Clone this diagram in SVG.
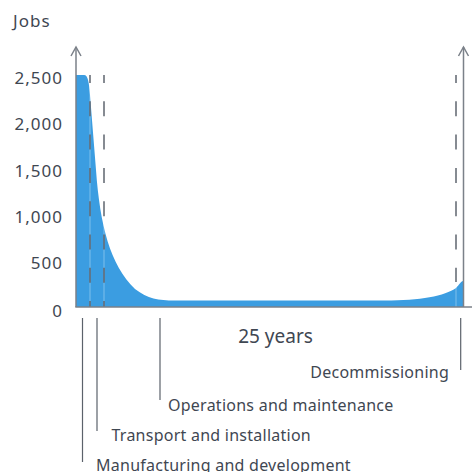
<svg xmlns="http://www.w3.org/2000/svg" width="472" height="472" viewBox="0 0 472 472">
<defs>
<style>
.t{font-family:"Noto Sans","Liberation Sans",sans-serif;fill:#3f4752}
.yl{font-size:17px;text-anchor:end;letter-spacing:1px}
.lb{font-size:16px;letter-spacing:0.25px}
.ax{stroke:#7b8189;stroke-width:1.5;fill:none}
.dash{stroke:#5f666f;stroke-width:1.5;stroke-dasharray:15 18.3;stroke-dashoffset:7;fill:none}
.lite{stroke:#ffffff;stroke-opacity:0.35;stroke-width:1;fill:none}
.lead{stroke:#5b626b;stroke-width:1.2;fill:none}
</style>
</defs>
<rect width="472" height="472" fill="#ffffff"/>
<g id="area">
<path d="M76,307 V75 H84 C88,75 89,82 90,95 L96,170 C100,225 110,265 135,289 C148,299 158,300.5 175,300.5 L385,300.5 C420,300.5 445,296 456,288 C459,285 461,281 463,281 V307 Z" fill="#3b9de1"/>
<line class="lite" x1="90" y1="75" x2="90" y2="307"/>
<line class="lite" x1="104" y1="75" x2="104" y2="307"/>
<line class="lite" x1="456" y1="75" x2="456" y2="307"/>
</g>
<g id="dashes">
<line class="dash" x1="90" y1="75" x2="90" y2="307"/>
<line class="dash" x1="104" y1="75" x2="104" y2="307"/>
<line class="dash" x1="456" y1="75" x2="456" y2="282"/>
</g>
<g id="axes">
<line class="ax" x1="76" y1="47" x2="76" y2="307"/>
<polyline class="ax" points="71,56 76,47 81,56"/>
<line class="ax" x1="463.5" y1="47" x2="463.5" y2="307"/>
<polyline class="ax" points="458.5,56 463.5,47 468.5,56"/>
<line class="ax" x1="75.3" y1="307" x2="472" y2="307"/>
</g>
<g id="ylabels">
<text class="t" x="13" y="26.7" font-size="17" letter-spacing="1">Jobs</text>
<text class="t yl" x="63" y="83.5">2,500</text>
<text class="t yl" x="63" y="129.8">2,000</text>
<text class="t yl" x="63" y="176.5">1,500</text>
<text class="t yl" x="63" y="223">1,000</text>
<text class="t yl" x="63" y="269">500</text>
<text class="t yl" x="63" y="316.5">0</text>
</g>
<g id="connectors">
<line class="lead" x1="82.5" y1="318" x2="82.5" y2="462"/>
<line class="lead" x1="97" y1="318" x2="97" y2="431"/>
<line class="lead" x1="160" y1="318" x2="160" y2="400"/>
<line class="lead" x1="460.7" y1="318" x2="460.7" y2="370"/>
</g>
<g id="years"><text class="t" x="275.5" y="342.5" font-size="19" text-anchor="middle">25 years</text></g>
<g id="decom"><text class="t lb" x="449" y="378" text-anchor="end">Decommissioning</text></g>
<g id="om"><text class="t lb" x="168" y="411">Operations and maintenance</text></g>
<g id="ti"><text class="t lb" x="111.5" y="441">Transport and installation</text></g>
<g id="md"><text class="t lb" x="96" y="471">Manufacturing and development</text></g>
</svg>
